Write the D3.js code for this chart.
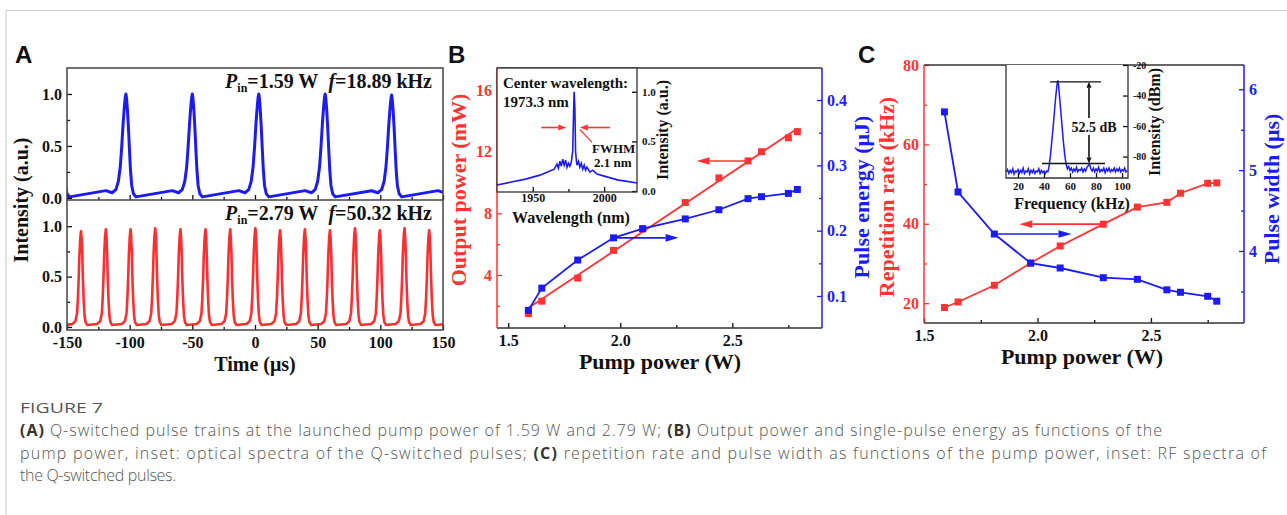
<!DOCTYPE html>
<html>
<head>
<meta charset="utf-8">
<title>Figure 7 : Q-switched pulses</title>
<script src="https://d3js.org/d3.v7.min.js"></script>
<style>
  body { margin: 0; background: #fff; }
  svg { display: block; }
  .serif { font-family: "Liberation Serif", "Times New Roman", serif; font-weight: bold; }
  .caption { font-family: "Open Sans", "Noto Sans", sans-serif; fill: #555; font-size: 16px; font-weight: 300; }
</style>
</head>
<body>
<script>
const width = 1287;
const height = 515;
const red = "#ff3333";
const blue = "#1c1cf2";
const ink = "#333";

// ---- panel A: pulse trains ----
const timeTicks = [-150, -100, -50, 0, 50, 100, 150];
const timeMinor = [-125, -75, -25, 25, 75, 125];
const intensityTicks = [0, 0.5, 1.0];
const intensityMinor = [0.25, 0.75];
// peak positions (us) and heights
const lowTimes = [-156, -103, -50, 3, 56, 109, 162];
const lowPeaks = [1.0, 1.0, 1.0, 1.0, 1.0, 0.99, 1.0];
const highTimes = [-158.6, -138.8, -119.0, -99.3, -79.6, -59.5, -39.5, -19.8, 0.3, 20.0, 39.8, 59.8, 79.8, 99.6, 119.3, 139.0, 158.8];
const highPeaks = [0.96, 0.95, 0.97, 0.97, 0.98, 0.97, 0.97, 0.97, 0.98, 0.96, 0.97, 0.96, 0.98, 0.96, 0.98, 0.96, 0.97];
// one pulse of each train (offset from peak in us, relative level)
const lowShapeT = [-16, -11, -8, -6, -4.5, -3.3, -2.2, -1.2, -0.5, 0, 0.5, 1.2, 2, 2.7, 3.6, 4.6, 6, 8];
const lowShapeV = [0.07, 0.05, 0.08, 0.16, 0.3, 0.5, 0.72, 0.88, 0.97, 1.0, 0.96, 0.85, 0.68, 0.5, 0.28, 0.12, 0.04, 0.01];
const highShapeT = [-7, -4.5, -3.2, -2.5, -1.9, -1.3, -0.6, 0, 0.5, 1.0, 1.5, 2.1, 2.8, 3.6, 5];
const highShapeV = [0.03, 0.06, 0.14, 0.3, 0.5, 0.75, 0.93, 1.0, 0.92, 0.75, 0.5, 0.28, 0.12, 0.05, 0.02];

// ---- panel B: output power / pulse energy ----
const pumpPower = [1.59, 1.65, 1.81, 1.97, 2.10, 2.29, 2.44, 2.57, 2.63, 2.75, 2.79];
const outputPower = [1.5, 2.3, 3.8, 5.6, 7.0, 8.7, 10.3, 11.4, 12.0, 12.9, 13.3];
const pulseEnergy = [0.078, 0.112, 0.155, 0.189, 0.203, 0.218, 0.232, 0.249, 0.252, 0.257, 0.263];
const fitPump = [1.59, 2.79];
const fitPower = [1.85, 13.5];
const pumpTicks = [1.5, 2.0, 2.5];
const pumpMinor = [1.75, 2.25, 2.75];
const powerTicks = [4, 8, 12, 16];
const powerMinor = [2, 6, 10, 14];
const energyTicks = [0.1, 0.2, 0.3, 0.4];
const energyMinor = [0.15, 0.25, 0.35];
// inset: optical spectrum
const specWl = [1925, 1935, 1945, 1955, 1960, 1965, 1967, 1968, 1969, 1970, 1971, 1972, 1973, 1974, 1975, 1976, 1977, 1978, 1978.6, 1979, 1979.5, 1980, 1980.6, 1981, 1982, 1983, 1984, 1985, 1986, 1987, 1988, 1990, 1992, 1995, 2000, 2005, 2010, 2015, 2023];
const specInt = [0.06, 0.09, 0.12, 0.16, 0.19, 0.22, 0.27, 0.23, 0.30, 0.25, 0.32, 0.26, 0.31, 0.24, 0.28, 0.25, 0.29, 0.40, 0.80, 1.0, 0.85, 0.40, 0.30, 0.26, 0.30, 0.24, 0.28, 0.22, 0.26, 0.21, 0.24, 0.19, 0.21, 0.17, 0.15, 0.13, 0.11, 0.10, 0.08];
const wlTicks = [1950, 2000];
const wlMinor = [1975];
const specTicks = [0, 0.5, 1.0];

// ---- panel C: repetition rate / pulse width ----
const repRate = [18.9, 20.3, 24.5, 30.1, 34.4, 39.9, 44.2, 45.4, 47.7, 50.2, 50.3];
const pulseWidth = [5.72, 4.73, 4.21, 3.85, 3.79, 3.67, 3.65, 3.52, 3.49, 3.44, 3.38];
const rateTicks = [20, 40, 60, 80];
const rateMinor = [30, 50, 70];
const widthTicks = [4, 5, 6];
const widthMinor = [3.5, 4.5, 5.5];
// inset: RF spectrum
const rfFreq = [11, 12, 13, 14, 15, 16, 17, 18, 19, 20, 21, 22, 23, 24, 25, 26, 27, 28, 29, 30, 31, 32, 33, 34, 35, 36, 37, 38, 39, 40, 41, 42, 43, 44, 45, 46, 47, 48, 49, 50, 50.6, 51.2, 52, 53, 54, 55, 56, 57, 58, 59, 60, 61, 62, 63, 64, 65, 66, 67, 68, 69, 70, 71, 72, 73, 74, 75, 76, 77, 78, 79, 80, 81, 82, 83, 84, 85, 86, 87, 88, 89, 90, 91, 92, 93, 94, 95, 96, 97, 98, 99, 100, 101, 102, 103, 104];
const rfLevel = [-90, -88.5, -91, -89, -90.5, -88, -91.5, -89.5, -90, -88.5, -91, -89, -90.5, -87.5, -91, -89.5, -90, -88, -91.5, -89, -90.5, -88.5, -91, -89.5, -90, -88, -91, -89, -90.5, -89.5, -91, -89.5, -90, -86, -79, -70, -61, -51, -41, -33, -30, -33, -41, -51, -61, -71, -79, -85, -88, -86.5, -89, -87.5, -90, -88, -89.5, -87, -90, -88.5, -89, -87.5, -90, -88, -89.5, -87, -86, -84.5, -88, -89.5, -87.5, -90, -88, -89.5, -87, -90, -88.5, -89.5, -87.5, -90.5, -88, -89.5, -87.5, -90, -88.5, -89.5, -87.5, -90, -88, -89.5, -87.5, -90, -88.5, -89.5, -87.5, -90, -89];
const freqTicks = [20, 40, 60, 80, 100];
const dbTicks = [-20, -40, -60, -80];

const svg = d3.select("body").append("svg")
    .attr("width", width)
    .attr("height", height);

const defs = svg.append("defs");

// page frame
svg.append("path")
    .attr("d", "M6,515V10.5H1287")
    .attr("fill", "none")
    .attr("stroke", "#cfcfcf")
    .attr("stroke-width", 1.2);

function drawAxis(orient, scale, x, y, major, minor, fmt, color, size, pad) {
  const make = {left: d3.axisLeft, right: d3.axisRight, top: d3.axisTop, bottom: d3.axisBottom}[orient];
  const g = svg.append("g")
      .attr("transform", "translate(" + x + "," + y + ")");
  g.call(make(scale).tickValues(major).tickFormat(fmt || "")
      .tickSizeInner(-5).tickSizeOuter(0)
      .tickPadding(pad !== undefined ? pad : (orient === "bottom" ? 7 : 5)));
  if (minor) {
    g.append("g").call(make(scale).tickValues(minor).tickFormat("")
        .tickSizeInner(-3).tickSizeOuter(0));
  }
  g.selectAll("path.domain").remove();
  g.selectAll("line").attr("stroke", color).attr("stroke-width", 1.3);
  g.selectAll("text")
      .attr("class", "serif")
      .attr("fill", color)
      .style("font-size", size + "px");
  return g;
}

function frameLine(x1, y1, x2, y2, color, w) {
  svg.append("line")
      .attr("x1", x1).attr("y1", y1).attr("x2", x2).attr("y2", y2)
      .attr("stroke", color).attr("stroke-width", w || 1.5);
}

function label(x, y, str, size, color, anchor, rotate) {
  const t = svg.append("text")
      .attr("class", "serif")
      .attr("text-anchor", anchor || "middle")
      .attr("fill", color || "#111")
      .style("font-size", size + "px")
      .text(str);
  if (rotate) {
    t.attr("transform", "translate(" + x + "," + y + ") rotate(-90)");
  } else {
    t.attr("x", x).attr("y", y);
  }
  return t;
}

function arrow(x1, y1, x2, y2, color, len, half) {
  const ang = Math.atan2(y2 - y1, x2 - x1);
  const bx = x2 - len * Math.cos(ang), by = y2 - len * Math.sin(ang);
  svg.append("line")
      .attr("x1", x1).attr("y1", y1).attr("x2", bx).attr("y2", by)
      .attr("stroke", color).attr("stroke-width", 1.6);
  svg.append("path")
      .attr("d", "M" + x2 + "," + y2 +
        "L" + (bx - half * Math.sin(ang)) + "," + (by + half * Math.cos(ang)) +
        "L" + (bx + half * Math.sin(ang)) + "," + (by - half * Math.cos(ang)) + "Z")
      .attr("fill", color);
}

function panelLetter(x, str) {
  svg.append("text")
      .attr("x", x).attr("y", 63)
      .style("font-family", "'Liberation Sans', Arial, sans-serif")
      .style("font-weight", "bold")
      .style("font-size", "24px")
      .attr("fill", "#111")
      .text(str);
}

function squares(xs, ys, xScale, yScale, color, size) {
  svg.append("g").selectAll("rect")
    .data(xs)
    .enter()
    .append("rect")
      .attr("x", function(d) { return xScale(d) - size / 2; })
      .attr("y", function(d, i) { return yScale(ys[i]) - size / 2; })
      .attr("width", size)
      .attr("height", size)
      .attr("fill", color);
}

// ================= panel A =================
function pulseTrain(times, peaks, shapeT, shapeV) {
  const pts = [];
  times.forEach(function(t0, i) {
    shapeT.forEach(function(dt, j) { pts.push([t0 + dt, shapeV[j] * peaks[i]]); });
  });
  return pts;
}

function renderPanelA() {
  const x = d3.scaleLinear().domain([-150, 150]).range([67, 443]);
  const yTop = d3.scaleLinear().domain([-0.02, 1.25]).range([200, 68]);
  const yBot = d3.scaleLinear().domain([-0.03, 1.26]).range([330, 200]);

  defs.append("clipPath").attr("id", "clipA1")
    .append("rect").attr("x", 67).attr("y", 68).attr("width", 376).attr("height", 132);
  defs.append("clipPath").attr("id", "clipA2")
    .append("rect").attr("x", 67).attr("y", 200).attr("width", 376).attr("height", 130);

  svg.append("path")
      .datum(pulseTrain(lowTimes, lowPeaks, lowShapeT, lowShapeV))
      .attr("clip-path", "url(#clipA1)")
      .attr("fill", "none")
      .attr("stroke", blue)
      .attr("stroke-width", 3)
      .attr("stroke-linejoin", "round")
      .attr("d", d3.line().x(function(d) { return x(d[0]); }).y(function(d) { return yTop(d[1]); }));

  svg.append("path")
      .datum(pulseTrain(highTimes, highPeaks, highShapeT, highShapeV))
      .attr("clip-path", "url(#clipA2)")
      .attr("fill", "none")
      .attr("stroke", "#ff2e2e")
      .attr("stroke-width", 2.6)
      .attr("stroke-linejoin", "round")
      .attr("d", d3.line().x(function(d) { return x(d[0]); }).y(function(d) { return yBot(d[1]); }));

  const f1 = d3.format(".1f");
  drawAxis("left", yTop, 67, 0, intensityTicks, intensityMinor, f1, "#111", 16);
  drawAxis("left", yBot, 67, 0, intensityTicks, intensityMinor, f1, "#111", 16);
  drawAxis("bottom", x, 0, 330, timeTicks, timeMinor, function(d) { return String(d); }, "#111", 16);
  drawAxis("bottom", x, 0, 200, timeTicks, timeMinor, null, "#111", 16);

  svg.append("rect")
      .attr("x", 67).attr("y", 68).attr("width", 376).attr("height", 262)
      .attr("fill", "none").attr("stroke", "#444").attr("stroke-width", 1.5);
  frameLine(67, 200, 443, 200, "#444");

  function pinLabel(y, pin, freq) {
    const t = svg.append("text")
        .attr("class", "serif")
        .attr("x", 432).attr("y", y)
        .attr("text-anchor", "end")
        .attr("fill", "#111")
        .style("font-size", "20px");
    t.append("tspan").style("font-style", "italic").text("P");
    t.append("tspan").attr("dy", 4).style("font-size", "12px").text("in");
    t.append("tspan").attr("dy", -4).text("=" + pin + " W\u00a0\u00a0");
    t.append("tspan").style("font-style", "italic").text("f");
    t.append("tspan").text("=" + freq + " kHz");
  }
  pinLabel(88, "1.59", "18.89");
  pinLabel(220, "2.79", "50.32");

  label(255, 371, "Time (\u03bcs)", 20);
  label(28, 200, "Intensity (a.u.)", 20, "#111", "middle", true);
  panelLetter(15, "A");
}

// ================= panel B =================
function renderPanelB() {
  const x = d3.scaleLinear().domain([1.45, 2.90]).range([497, 822]);
  const yPow = d3.scaleLinear().domain([0.56, 17.43]).range([328, 68]);
  const yEn = d3.scaleLinear().domain([0.051, 0.449]).range([328, 68]);

  // linear fit of the output power
  svg.append("line")
      .attr("x1", x(fitPump[0])).attr("y1", yPow(fitPower[0]))
      .attr("x2", x(fitPump[1])).attr("y2", yPow(fitPower[1]))
      .attr("stroke", red).attr("stroke-width", 1.8);
  squares(pumpPower, outputPower, x, yPow, red, 7);

  svg.append("path")
      .datum(pumpPower)
      .attr("fill", "none")
      .attr("stroke", blue)
      .attr("stroke-width", 1.8)
      .attr("d", d3.line().x(function(d) { return x(d); }).y(function(d, i) { return yEn(pulseEnergy[i]); }));
  squares(pumpPower, pulseEnergy, x, yEn, blue, 7);

  arrow(x(2.57), yPow(11.4), x(2.34), yPow(11.4), red, 13, 3.8);
  arrow(x(1.97), yEn(0.189), x(2.26), yEn(0.189), blue, 13, 3.8);

  drawAxis("bottom", x, 0, 328, pumpTicks, pumpMinor, d3.format(".1f"), "#111", 16);
  drawAxis("left", yPow, 497, 0, powerTicks, powerMinor, d3.format("d"), red, 16);
  drawAxis("right", yEn, 822, 0, energyTicks, energyMinor, d3.format(".1f"), blue, 16);

  frameLine(497, 68, 822, 68, ink);
  frameLine(497, 328, 822, 328, ink);
  frameLine(497, 68, 497, 328, red);
  frameLine(822, 68, 822, 328, blue);

  label(660, 369, "Pump power (W)", 22);
  label(466, 190, "Output power (mW)", 22, red, "middle", true);
  label(869, 197, "Pulse energy (\u03bcJ)", 22, blue, "middle", true);
  panelLetter(448, "B");

  // inset: optical spectrum
  const xw = d3.scaleLinear().domain([1925, 2023]).range([497, 637]);
  const yw = d3.scaleLinear().domain([-0.01, 1.24]).range([192, 68]);
  svg.append("rect")
      .attr("x", 497).attr("y", 68).attr("width", 140).attr("height", 124)
      .attr("fill", "#fff");
  svg.append("path")
      .datum(specWl)
      .attr("fill", "none")
      .attr("stroke", blue)
      .attr("stroke-width", 1.6)
      .attr("d", d3.line().x(function(d) { return xw(d); }).y(function(d, i) { return yw(specInt[i]); }));

  // FWHM marker
  arrow(xw(1956), yw(0.64), xw(1973.5), yw(0.64), red, 8, 3);
  arrow(xw(2004), yw(0.64), xw(1983), yw(0.64), red, 8, 3);
  svg.append("line")
      .attr("x1", xw(1983)).attr("y1", yw(0.62))
      .attr("x2", xw(1991.5)).attr("y2", yw(0.49))
      .attr("stroke", red).attr("stroke-width", 1.2);

  drawAxis("bottom", xw, 0, 192, wlTicks, wlMinor, d3.format("d"), "#111", 12, 1);
  drawAxis("right", yw, 637, 0, specTicks, null, d3.format(".1f"), "#111", 11);
  svg.append("rect")
      .attr("x", 497).attr("y", 68).attr("width", 140).attr("height", 124)
      .attr("fill", "none").attr("stroke", ink).attr("stroke-width", 1.3);

  label(503, 88, "Center wavelength:", 15, "#111", "start");
  label(503, 107, "1973.3 nm", 15, "#111", "start");
  label(592, 153, "FWHM", 13, "#111", "start");
  label(594, 167, "2.1 nm", 13, "#111", "start");
  label(571, 223, "Wavelength (nm)", 16);
  label(668, 130, "Intensity (a.u.)", 16, "#111", "middle", true);
}

// ================= panel C =================
function renderPanelC() {
  const x = d3.scaleLinear().domain([1.5, 2.91]).range([924, 1244]);
  const yRate = d3.scaleLinear().domain([15, 80]).range([323, 65]);
  const yWidth = d3.scaleLinear().domain([3.11, 6.30]).range([323, 65]);

  svg.append("path")
      .datum(pumpPower)
      .attr("fill", "none")
      .attr("stroke", red)
      .attr("stroke-width", 1.8)
      .attr("d", d3.line().x(function(d) { return x(d); }).y(function(d, i) { return yRate(repRate[i]); }));
  squares(pumpPower, repRate, x, yRate, red, 7);

  svg.append("path")
      .datum(pumpPower)
      .attr("fill", "none")
      .attr("stroke", blue)
      .attr("stroke-width", 1.8)
      .attr("d", d3.line().x(function(d) { return x(d); }).y(function(d, i) { return yWidth(pulseWidth[i]); }));
  squares(pumpPower, pulseWidth, x, yWidth, blue, 7);

  arrow(x(2.29), yRate(39.9), x(1.92), yRate(39.9), red, 13, 3.8);
  arrow(x(1.81), yWidth(4.21), x(2.15), yWidth(4.21), blue, 13, 3.8);

  drawAxis("bottom", x, 0, 323, pumpTicks, pumpMinor, d3.format(".1f"), "#111", 16);
  drawAxis("left", yRate, 924, 0, rateTicks, rateMinor, d3.format("d"), red, 16);
  drawAxis("right", yWidth, 1244, 0, widthTicks, widthMinor, d3.format("d"), blue, 16);

  frameLine(924, 65, 1244, 65, ink);
  frameLine(924, 323, 1244, 323, ink);
  frameLine(924, 65, 924, 323, red);
  frameLine(1244, 65, 1244, 323, blue);

  label(1082, 364, "Pump power (W)", 22);
  label(894, 197, "Repetition rate (kHz)", 22, red, "middle", true);
  label(1279, 189, "Pulse width (\u03bcs)", 22, blue, "middle", true);
  panelLetter(858, "C");

  // inset: RF spectrum
  const xf = d3.scaleLinear().domain([10.8, 104.6]).range([1006, 1128]);
  const yd = d3.scaleLinear().domain([-94, -20]).range([178, 65]);
  svg.append("rect")
      .attr("x", 1006).attr("y", 65).attr("width", 122).attr("height", 113)
      .attr("fill", "#fff");
  svg.append("path")
      .datum(rfFreq)
      .attr("fill", "none")
      .attr("stroke", blue)
      .attr("stroke-width", 1.5)
      .attr("d", d3.line().x(function(d) { return xf(d); }).y(function(d, i) { return yd(rfLevel[i]); }));

  // 52.5 dB marker
  svg.append("line")
      .attr("x1", xf(44.6)).attr("y1", yd(-31)).attr("x2", xf(83.8)).attr("y2", yd(-31))
      .attr("stroke", "#111").attr("stroke-width", 1.3);
  svg.append("line")
      .attr("x1", xf(38.5)).attr("y1", yd(-84.5)).attr("x2", xf(86.9)).attr("y2", yd(-84.5))
      .attr("stroke", "#111").attr("stroke-width", 1.3);
  arrow(xf(74.6), yd(-57), xf(74.6), yd(-31), "#111", 6, 2.5);
  arrow(xf(74.6), yd(-57), xf(74.6), yd(-84.5), "#111", 6, 2.5);
  svg.append("rect")
      .attr("x", 1071).attr("y", 118).attr("width", 46).attr("height", 17)
      .attr("fill", "#fff");
  label(1094, 132, "52.5 dB", 14);

  drawAxis("bottom", xf, 0, 178, freqTicks, null, d3.format("d"), "#111", 11, 4);
  drawAxis("right", yd, 1128, 0, dbTicks, null, function(d) { return String(d); }, "#111", 10);
  svg.append("path")
      .attr("d", "M1006,65V178H1128V65")
      .attr("fill", "none").attr("stroke", ink).attr("stroke-width", 1.3);

  label(1072, 209, "Frequency (kHz)", 16);
  label(1160, 122, "Intensity (dBm)", 16, "#111", "middle", true);
}

renderPanelA();
renderPanelB();
renderPanelC();

// ================= caption =================
svg.append("text")
    .attr("class", "caption")
    .attr("x", 20).attr("y", 413)
    .attr("textLength", 83)
    .attr("lengthAdjust", "spacingAndGlyphs")
    .style("font-weight", "normal")
    .style("font-size", "15px")
    .text("FIGURE 7");

const captionLines = [
  [["(A)", true], [" Q-switched pulse trains at the launched pump power of 1.59 W and 2.79 W; ", false], ["(B)", true], [" Output power and single-pulse energy as functions of the", false]],
  [["pump power, inset: optical spectra of the Q-switched pulses; ", false], ["(C)", true], [" repetition rate and pulse width as functions of the pump power, inset: RF spectra of", false]],
  [["the Q-switched pulses.", false]]
];
const captionWidths = [1142, 1246, 156];
captionLines.forEach(function(parts, i) {
  const t = svg.append("text")
      .attr("class", "caption")
      .attr("x", 20).attr("y", 436 + i * 22.5)
      .attr("textLength", captionWidths[i])
      .attr("lengthAdjust", "spacing");
  parts.forEach(function(p) {
    t.append("tspan")
        .style("font-weight", p[1] ? "bold" : null)
        .style("fill", p[1] ? "#333" : null)
        .text(p[0]);
  });
});
</script>
</body>
</html>
